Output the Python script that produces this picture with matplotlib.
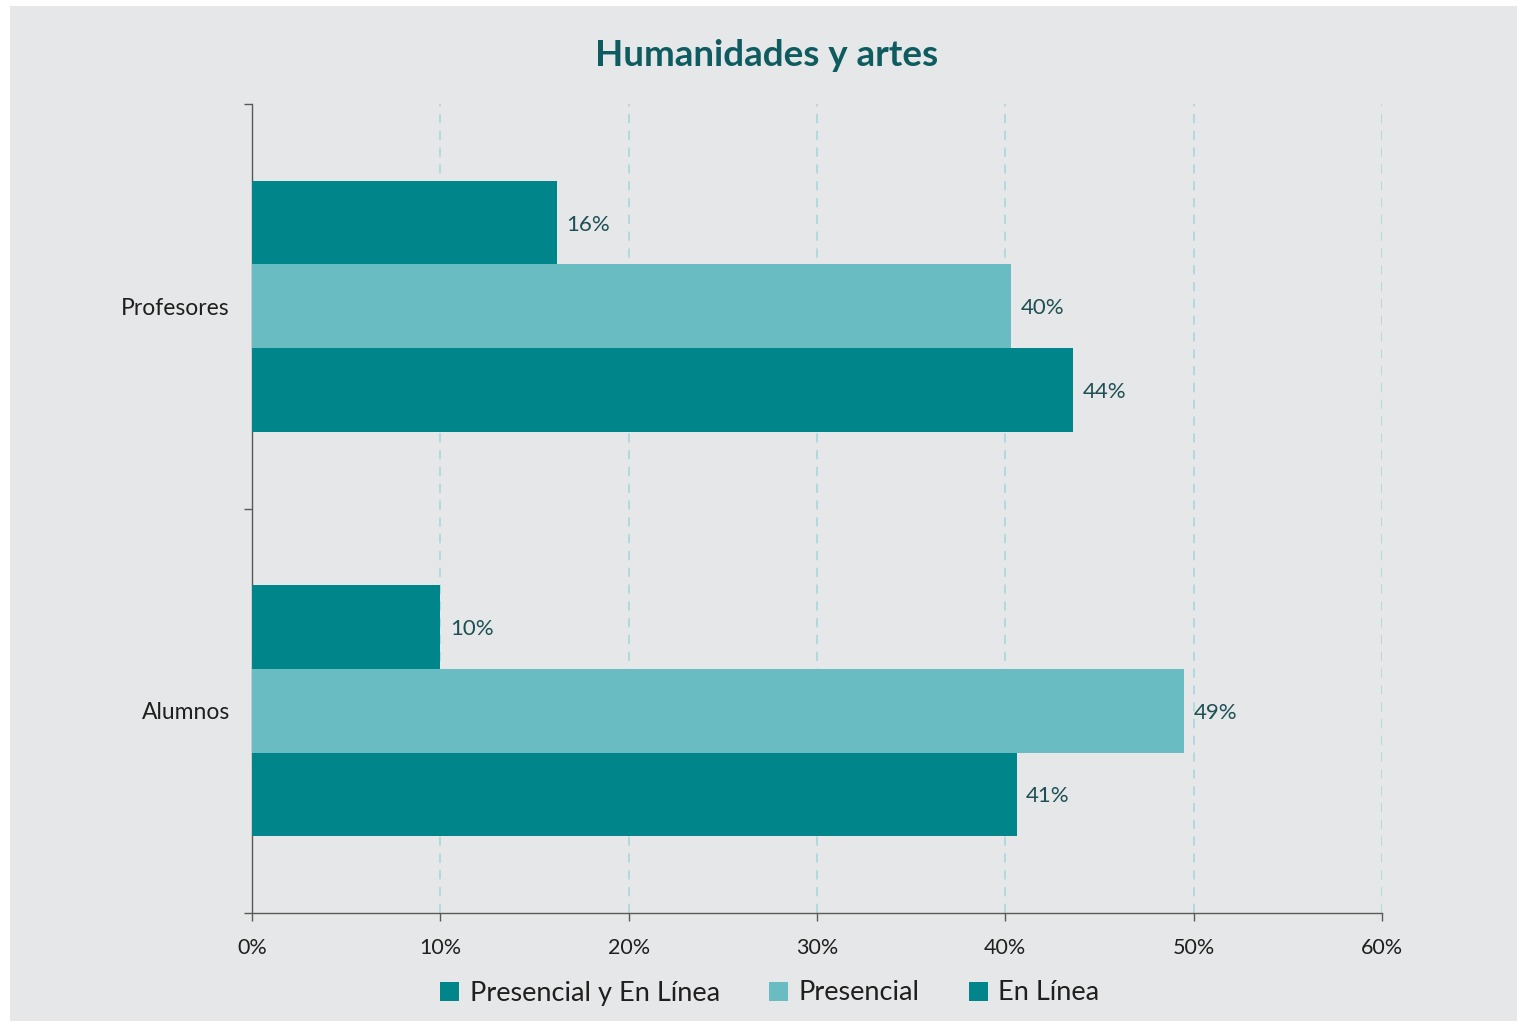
import matplotlib
matplotlib.use("Agg")
import matplotlib.pyplot as plt
from matplotlib.patches import Rectangle
from matplotlib.ticker import FuncFormatter

categories = ["Alumnos", "Profesores"]
series_names = ["Presencial y En Línea", "Presencial", "En Línea"]
presencial_y_en_linea = [40.6, 43.6]
presencial = [49.5, 40.3]
en_linea = [10.0, 16.2]
labels_pyel = ["41%", "44%"]
labels_pres = ["49%", "40%"]
labels_el = ["10%", "16%"]

dark = "#00858A"
light = "#6ABCC3"
bg = "#E6E7E8"
txt = "#1F1F1F"
lbl = "#1E4F55"

plt.rcParams['font.family'] = ['Lato', 'DejaVu Sans']

W, H = 1519, 1023
fig = plt.figure(figsize=(W/100, H/100), dpi=100)
fig.patch.set_facecolor("white")
fig.patches.append(Rectangle((10/W, 1-1021/H), 1507/W, 1015/H, transform=fig.transFigure,
                             facecolor=bg, edgecolor="none", zorder=-10))

ax = fig.add_axes([252/W, 1-913/H, 1130/W, 809/H])
ax.set_facecolor(bg)
ax.patch.set_alpha(0)

h = 0.207
ypos = list(range(len(categories)))
series = [(presencial_y_en_linea, dark, -h, labels_pyel),
          (presencial, light, 0.0, labels_pres),
          (en_linea, dark, h, labels_el)]
handles = []
for (vals, col, off, labs), name in zip(series, series_names):
    b = ax.barh([y + off for y in ypos], vals, height=h, color=col, label=name, zorder=3)
    handles.append(b)
    for y, v, l in zip(ypos, vals, labs):
        ax.text(v + 0.5, y + off, l, va="center_baseline", ha="left", fontsize=16, color=lbl, zorder=4)

ax.set_xlim(0, 60)
ax.set_ylim(-0.5, 1.5)
ax.set_xticks(range(0, 61, 10))
ax.xaxis.set_major_formatter(FuncFormatter(lambda v, p: f"{int(v)}%"))
ax.tick_params(axis="x", length=6, width=1, color="#595959", labelsize=15.5, labelcolor=txt, pad=12)
ax.set_yticks(ypos)
ax.set_yticklabels(categories)
ax.tick_params(axis="y", which="major", length=0, labelsize=16.5, labelcolor=txt, pad=16)
ax.set_yticks([-0.5, 0.5, 1.5], minor=True)
ax.tick_params(axis="y", which="minor", length=6, width=1, color="#595959")

ax.grid(axis="x", color="#A3D6D8", linestyle=(0, (6, 5)), linewidth=1.1, zorder=0)
ax.grid(axis="y", visible=False)
for s in ["top", "right"]:
    ax.spines[s].set_visible(False)
for s in ["left", "bottom"]:
    ax.spines[s].set_color("#595959")
    ax.spines[s].set_linewidth(1)

fig.text(767/W, 1-55/H, "Humanidades y artes", ha="center", va="center",
         fontsize=26.5, fontweight="bold", color="#0E5C60")

fig.legend(handles=handles, labels=series_names, loc="center", bbox_to_anchor=(770/W, 1-993/H),
           ncol=3, frameon=False, fontsize=19.5, handlelength=0.7, handleheight=0.7,
           handletextpad=0.4, columnspacing=1.8, labelcolor=txt)

fig.savefig("out.png", dpi=100, facecolor="white")
